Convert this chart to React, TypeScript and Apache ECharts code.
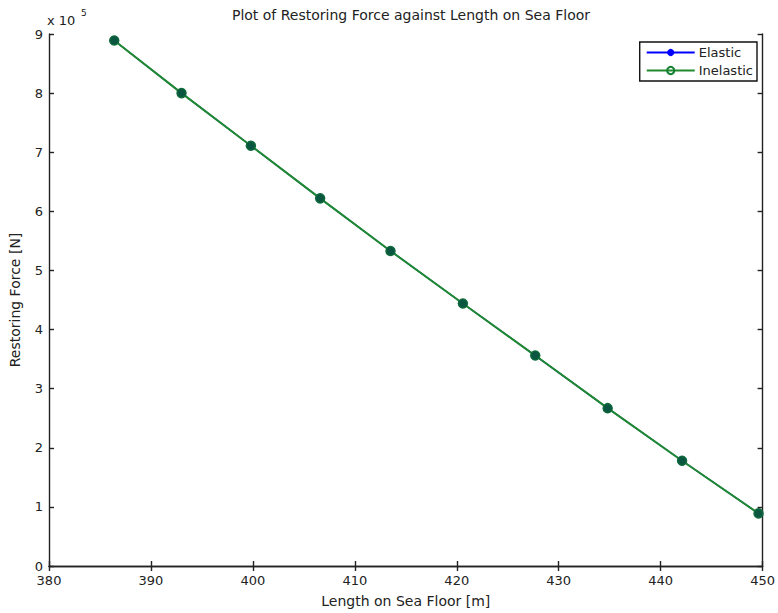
import React, { useEffect, useRef } from "react";
import * as echarts from "echarts";

const lengths = [386.4, 393.0, 399.8, 406.6, 413.5, 420.6, 427.7, 434.8, 442.1, 449.6];
const elasticForce = [889000, 800000, 711000, 622000, 533000, 444000, 356000, 267000, 178000, 89000];
const inelasticForce = [889000, 800000, 711000, 622000, 533000, 444000, 356000, 267000, 178000, 89000];
const seriesNames = ["Elastic", "Inelastic"];

const FONT = "DejaVu Sans";
const TXT = "#222";

export default function App() {
  const ref = useRef<HTMLDivElement>(null);
  useEffect(() => {
    if (!ref.current) return;
    const chart = echarts.init(ref.current, undefined, { renderer: "svg" });
    const gridL = 48, gridR = 14, gridT = 34, gridB = 43;
    const axisLine = { show: true, lineStyle: { color: "#222", width: 1.4 } };
    const tickIn = { show: true, inside: true, length: 5, lineStyle: { color: "#222", width: 1.4 } };
    chart.setOption({
      animation: false,
      backgroundColor: "#fff",
      textStyle: { fontFamily: FONT },
      title: {
        text: "Plot of Restoring Force against Length on Sea Floor",
        left: gridL + (778 - gridL - gridR) / 2,
        textAlign: "center",
        top: 3,
        textStyle: { fontFamily: FONT, fontSize: 14, fontWeight: "normal", color: TXT },
      },
      legend: {
        data: [
          { name: seriesNames[0] },
          { name: seriesNames[1], itemStyle: { color: "rgba(0,0,0,0)", borderColor: "#138030", borderWidth: 2 } },
        ],
        orient: "vertical",
        right: 21,
        top: 42,
        itemWidth: 48,
        itemHeight: 9,
        itemGap: 5,
        padding: [4, 4, 4, 6],
        borderColor: "#111",
        borderWidth: 1.4,
        backgroundColor: "#fff",
        textStyle: { fontFamily: FONT, fontSize: 13, color: TXT, padding: [0, 0, 0, -1] },
      },
      grid: { left: gridL, right: gridR, top: gridT, bottom: gridB, containLabel: false },
      xAxis: [
        {
          type: "value",
          min: 380,
          max: 450,
          interval: 10,
          name: "Length on Sea Floor [m]",
          nameLocation: "middle",
          nameGap: 28,
          nameTextStyle: { fontFamily: FONT, fontSize: 14, color: TXT },
          axisLine,
          axisTick: tickIn,
          axisLabel: { fontFamily: FONT, fontSize: 13, color: TXT, margin: 8 },
          splitLine: { show: false },
        },
        {
          type: "value",
          position: "top",
          min: 380,
          max: 450,
          interval: 10,
          axisLine,
          axisTick: tickIn,
          axisLabel: { show: false },
          splitLine: { show: false },
        },
      ],
      yAxis: [
        {
          type: "value",
          min: 0,
          max: 900000,
          interval: 100000,
          name: "Restoring Force [N]",
          nameLocation: "middle",
          nameGap: 27,
          nameTextStyle: { fontFamily: FONT, fontSize: 14, color: TXT },
          axisLine,
          axisTick: tickIn,
          axisLabel: {
            fontFamily: FONT,
            fontSize: 13,
            color: TXT,
            margin: 6,
            formatter: (v: number) => String(Math.round(v / 100000)),
          },
          splitLine: { show: false },
        },
        {
          type: "value",
          position: "right",
          min: 0,
          max: 900000,
          interval: 100000,
          axisLine,
          axisTick: tickIn,
          axisLabel: { show: false },
          splitLine: { show: false },
        },
      ],
      graphic: [
        {
          type: "text",
          left: 47,
          top: 14,
          style: { text: "x 10", fontFamily: FONT, fontSize: 13, fill: TXT },
        },
        {
          type: "text",
          left: 81,
          top: 8,
          style: { text: "5", fontFamily: FONT, fontSize: 9, fill: TXT },
        },
      ],
      series: [
        {
          name: seriesNames[0],
          type: "line",
          data: lengths.map((x, i) => [x, elasticForce[i]]),
          symbol: "circle",
          symbolSize: 9,
          lineStyle: { color: "#0000ff", width: 1.4 },
          itemStyle: { color: "#0000ff" },
          clip: false,
          z: 2,
        },
        {
          name: seriesNames[1],
          type: "line",
          data: lengths.map((x, i) => [x, inelasticForce[i]]),
          symbol: "circle",
          symbolSize: 9,
          lineStyle: { color: "#1f8a2e", width: 2 },
          itemStyle: { color: "#0b5640", borderColor: "#0f6a3c", borderWidth: 1.5 },
          clip: false,
          z: 3,
        },
      ],
    });
    return () => chart.dispose();
  }, []);
  return <div ref={ref} style={{ width: 778, height: 613, position: "absolute", left: 0, top: 0 }} />;
}
